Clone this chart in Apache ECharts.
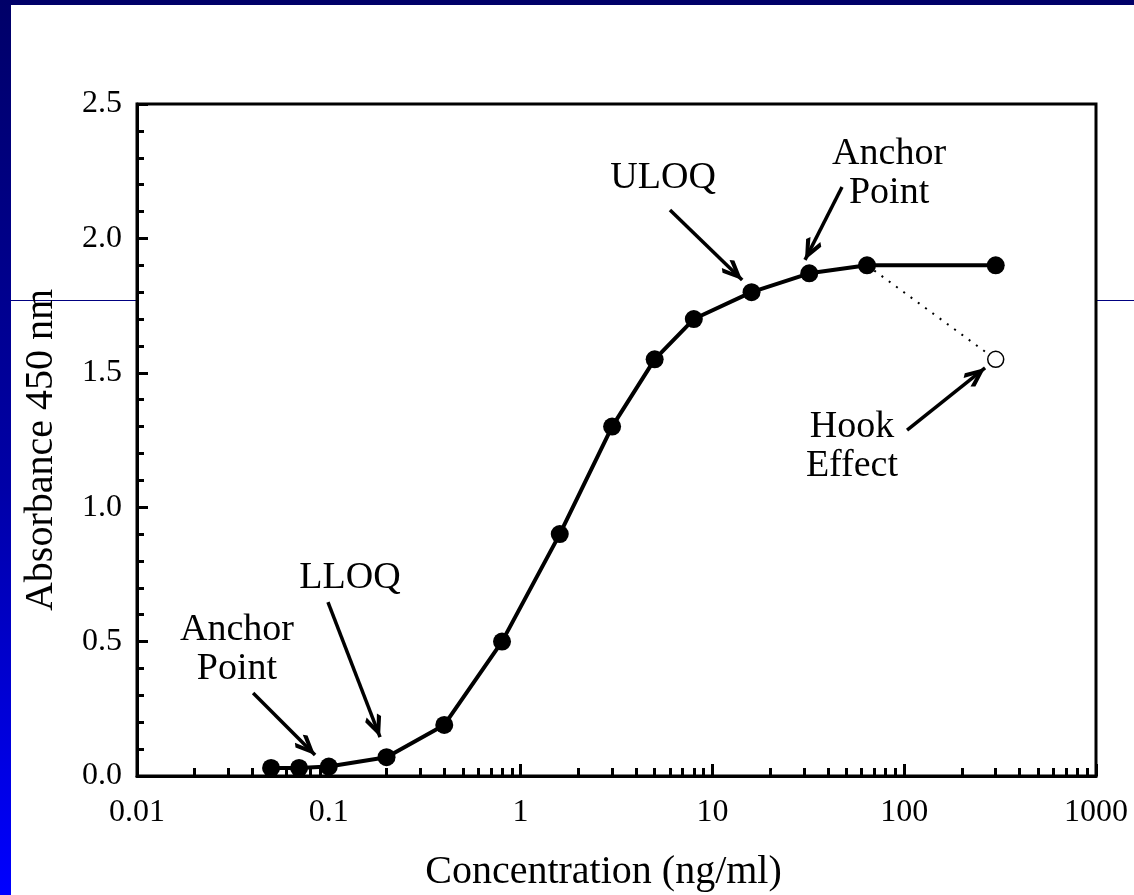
<!DOCTYPE html>
<html lang="en">
<head>
    <meta charset="UTF-8">
    <title>Absorbance vs Concentration</title>
    <script src="https://cdn.jsdelivr.net/npm/echarts@6/dist/echarts.min.js"></script>
    <style>
        * { box-sizing: border-box; margin: 0; padding: 0; }

        body {
            width: 1134px;
            height: 895px;
            overflow: hidden;
            background: linear-gradient(to bottom, #000068 0%, #0000a8 55%, #0000ff 100%);
            position: relative;
        }

        #chart {
            position: absolute;
            left: 11px;
            top: 5px;
            width: 1123px;
            height: 890px;
            background: #ffffff;
        }
    </style>
</head>
<body>
    <div id="chart"></div>

    <script>
        // 数据
        const conc = [0.05, 0.07, 0.1, 0.2, 0.4, 0.8, 1.6, 3, 5, 8, 16, 32, 64, 300];
        const absorb = [0.03, 0.03, 0.035, 0.07, 0.19, 0.5, 0.9, 1.3, 1.55, 1.7, 1.8, 1.87, 1.9, 1.9];
        const hookConc = [64, 300];
        const hookAbs = [1.9, 1.55];

        const yTicks = [0, 0.5, 1.0, 1.5, 2.0, 2.5];
        const xTickLabels = ['0.01', '0.1', '1', '10', '100', '1000'];
        const xMinor = [];
        [0.01, 0.1, 1, 10, 100].forEach(d => {
            for (let k = 2; k <= 9; k++) xMinor.push(+(d * k).toPrecision(3));
        });

        // 注释: 文字和箭头 (数据坐标)
        const noteText = ['Anchor\nPoint', 'LLOQ', 'ULOQ', 'Anchor\nPoint', 'Hook\nEffect'];
        const noteAt = [[0.0332, 0.47], [0.129, 0.737], [5.53, 2.225], [83.4, 2.243], [53.4, 1.224]];
        const arrowFrom = [[0.0403, 0.309], [0.099, 0.647], [6.01, 2.106], [47.4, 2.191], [103.5, 1.287]];
        const arrowTo = [[0.0848, 0.078], [0.185, 0.145], [14.3, 1.845], [30.4, 1.92], [264, 1.518]];

        const FONT = 'Liberation Serif, Times New Roman, serif';
        // 开口箭头 (尖端在中心)
        const chevron = 'path://M10,0 L10.2,0 L10.1,0.2 Z M10,24 L20,44 L16.5,48 L10,34 L3.5,48 L0,44 Z';

        const chart = echarts.init(document.getElementById('chart'));

        const option = {
            animation: false,
            grid: {
                left: 126,
                right: 38,
                top: 99,
                bottom: 119,
                outerBoundsMode: 'none',
                containLabel: false,
                show: true,
                borderColor: '#000',
                borderWidth: 3,
                backgroundColor: '#fff'
            },
            xAxis: [{
                type: 'log',
                logBase: 10,
                min: 0.01,
                max: 1000,
                name: 'Concentration (ng/ml)',
                nameLocation: 'middle',
                nameGap: 76,
                nameTextStyle: { fontFamily: FONT, fontSize: 40, color: '#000', padding: [0, 26, 0, 0] },
                axisLine: { show: true, lineStyle: { color: '#000', width: 3 } },
                axisTick: { show: true, inside: true, length: 12, lineStyle: { color: '#000', width: 3 } },
                axisLabel: {
                    fontFamily: FONT, fontSize: 32, color: '#000', margin: 21,
                    formatter: v => {
                        const i = Math.round(Math.log10(v)) + 2;
                        return xTickLabels[i] !== undefined ? xTickLabels[i] : '';
                    }
                },
                splitLine: { show: false }
            }, {
                type: 'log',
                logBase: 10,
                min: 0.01,
                max: 1000,
                position: 'bottom',
                axisLine: { show: false },
                axisLabel: { show: false },
                axisTick: {
                    show: true, inside: true, length: 8,
                    customValues: xMinor,
                    lineStyle: { color: '#000', width: 3 }
                },
                splitLine: { show: false }
            }],
            yAxis: {
                type: 'value',
                min: 0,
                max: 2.5,
                interval: 0.5,
                name: 'Absorbance 450 nm',
                nameLocation: 'middle',
                nameGap: 76,
                nameTextStyle: { fontFamily: FONT, fontSize: 40, color: '#000', padding: [0, 20, 0, 0] },
                axisLine: { show: true, lineStyle: { color: '#000', width: 3 } },
                axisTick: { show: true, inside: true, length: 11, lineStyle: { color: '#000', width: 3 } },
                minorTick: { show: true, splitNumber: 5, length: 7, lineStyle: { color: '#000', width: 3 } },
                axisLabel: {
                    fontFamily: FONT, fontSize: 32, color: '#000', margin: 15,
                    formatter: v => yTicks.indexOf(v) >= 0 ? v.toFixed(1) : ''
                },
                splitLine: { show: false }
            },
            graphic: [
                { type: 'line', silent: true, z: -10, shape: { x1: 0, y1: 295.5, x2: 126, y2: 295.5 }, style: { stroke: '#000080', lineWidth: 1 } },
                { type: 'line', silent: true, z: -10, shape: { x1: 1085, y1: 295.5, x2: 1123, y2: 295.5 }, style: { stroke: '#000080', lineWidth: 1 } }
            ],
            series: [{
                name: 'hook',
                type: 'line',
                data: [
                    { value: [hookConc[0], hookAbs[0]], symbol: 'none' },
                    { value: [hookConc[1], hookAbs[1]] }
                ],
                symbol: 'circle',
                symbolSize: 16,
                itemStyle: { color: '#fff', borderColor: '#000', borderWidth: 1.5 },
                lineStyle: { color: '#000', width: 2, type: [2, 7] },
                z: 2
            }, {
                name: 'curve',
                type: 'line',
                data: conc.map((c, i) => [c, absorb[i]]),
                symbol: 'circle',
                symbolSize: 18,
                itemStyle: { color: '#000' },
                lineStyle: { color: '#000', width: 4 },
                z: 3,
                markLine: {
                    silent: true,
                    symbol: ['none', chevron],
                    symbolSize: [17, 46],
                    lineStyle: { color: '#000', width: 3.5, type: 'solid' },
                    label: { show: false },
                    data: arrowFrom.map((f, i) => [{ coord: f }, { coord: arrowTo[i] }])
                },
                markPoint: {
                    silent: true,
                    symbol: 'rect',
                    symbolSize: 1,
                    itemStyle: { color: 'rgba(0,0,0,0)' },
                    label: {
                        show: true,
                        position: 'inside',
                        formatter: '{b}',
                        fontFamily: FONT,
                        fontSize: 38,
                        lineHeight: 39,
                        color: '#000',
                        align: 'center'
                    },
                    data: noteText.map((t, i) => ({ name: t, coord: noteAt[i] }))
                }
            }]
        };

        chart.setOption(option);
    </script>
</body>
</html>
